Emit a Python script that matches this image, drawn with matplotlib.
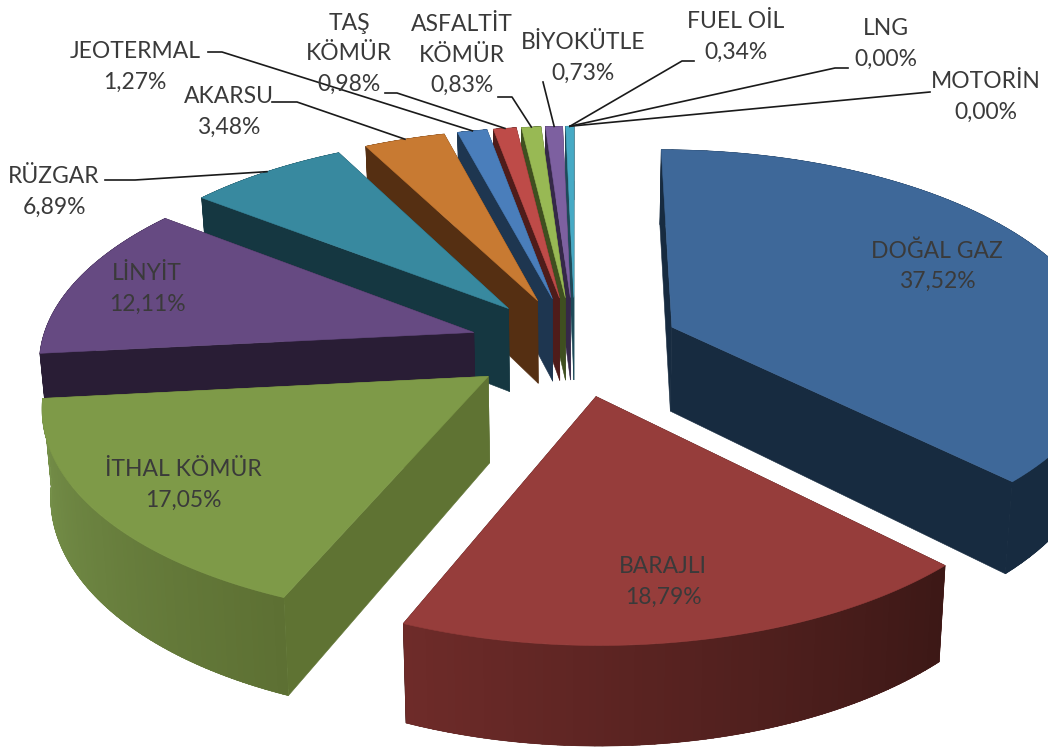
import numpy as np
import matplotlib
matplotlib.use("Agg")
import matplotlib.pyplot as plt
from matplotlib.colors import to_rgb

# data
names = ["DOĞAL GAZ", "BARAJLI", "İTHAL KÖMÜR", "LİNYİT", "RÜZGAR", "AKARSU", "JEOTERMAL",
         "TAŞ\nKÖMÜR", "ASFALTİT\nKÖMÜR", "BİYOKÜTLE", "FUEL OİL", "LNG", "MOTORİN"]
shares = [37.52, 18.79, 17.05, 12.11, 6.89, 3.48, 1.27, 0.98, 0.83, 0.73, 0.34, 0.00, 0.00]

# colours
tops = ["#3e6899", "#963d3b", "#7e9a48", "#664a82", "#38899f", "#c87a32",
        "#4a7ebb", "#be4b48", "#98b954", "#7d60a0", "#46aac5", "#46aac5", "#46aac5"]
cuts = ["#172b40", "#3c1816", "#5f7333", "#291d35", "#153741", "#552f12",
        "#1e3650", "#4f1c1a", "#3f4f20", "#352848", "#1d4a58", "#1d4a58", "#1d4a58"]
wall_right = ["#172b40", "#3c1816", "#5d7033", "#291d35", "#153741", "#552f12",
              "#1e3650", "#4f1c1a", "#3f4f20", "#352848", "#1d4a58", "#1d4a58", "#1d4a58"]
wall_left = ["#172b40", "#6e2b29", "#76914a", "#291d35", "#153741", "#552f12",
             "#1e3650", "#4f1c1a", "#3f4f20", "#352848", "#1d4a58", "#1d4a58", "#1d4a58"]

# pie shape
cx, cy = 575, 346
R, Rk = 433, 204
D = 8.0
depth = 85
taper = 0.016
explode = 0.245

label_xy = [(937, 266), (663, 582), (183, 485), (147, 289), (54, 192), (229, 112), (135, 67),
            (349, 54), (462, 55), (583, 58), (736, 37), (886, 44), (986, 97)]
# leader lines: text side end, elbow (None for labels inside the pie)
leader = [None, None, None, None, ((105, 180), (135, 180)), ((272, 102), (297, 102)),
          ((208, 52), (222, 52)), ((385, 93), (397, 93)), ((498, 97), (512, 97)),
          ((543, 82), (543, 82)), ((694, 61), (682, 61)), ((848, 68), (835, 68)),
          ((930, 92), (930, 92))]


def project(x, y, z=0.0):
    s = D / (D - y)
    return cx + R * x * s * (1 - taper * z), cy + Rk * y * s + depth * z * s


def wedge_xy(a0, a1, z=0.0, n=80):
    mid = np.radians((a0 + a1) / 2)
    ex, ey = explode * np.sin(mid), -explode * np.cos(mid)
    aa = np.radians(np.linspace(a0, a1, n))
    px, py = project(ex + np.sin(aa), ey - np.cos(aa), z)
    return project(ex, ey, z), px, py


def blend(c0, c1, t):
    c0, c1 = np.array(to_rgb(c0)), np.array(to_rgb(c1))
    return tuple(c0 + (c1 - c0) * t)


fig = plt.figure(figsize=(10.48, 7.47), dpi=100)
ax = fig.add_axes([0, 0, 1, 1])
ax.set_xlim(0, 1048)
ax.set_ylim(747, 0)
ax.axis("off")

ends = np.cumsum(shares) * 3.6
starts = np.r_[0, ends[:-1]]
ends[10] = 360  # rounding rest goes to the last sliver so the ring closes

# back to front
order = sorted([i for i in range(len(shares)) if shares[i] > 0],
               key=lambda i: -np.cos(np.radians((starts[i] + ends[i]) / 2)))

anchors = {}
for i in order:
    a0, a1 = starts[i], ends[i]
    (tx, ty), px, py = wedge_xy(a0, a1)
    (bx, by), qx, qy = wedge_xy(a0, a1, z=1.0)
    anchors[i] = (px[len(px) // 2], py[len(py) // 2])
    # cut faces
    for k in (0, -1):
        ax.fill([tx, px[k], qx[k], bx], [ty, py[k], qy[k], by], color=cuts[i], lw=0.4)
    # outer wall, a smooth shape with the shading strips clipped to it
    n = len(px)
    shape = ax.fill(np.r_[px, qx[::-1]], np.r_[py, qy[::-1]],
                    color=blend(wall_right[i], wall_left[i], 0.5), lw=0.4)[0]
    for j in range(n - 1):
        c = blend(wall_right[i], wall_left[i], j / (n - 2))
        strip = ax.fill([px[j], px[j + 1], qx[j + 1], qx[j]], [py[j], py[j + 1], qy[j + 1], qy[j]],
                        color=c, lw=1.0, antialiased=False)[0]
        strip.set_clip_path(shape)
    # top
    ax.fill(np.r_[tx, px], np.r_[ty, py], color=tops[i], lw=0.4)

# leader lines end on the slice they belong to, the two empty slices on the last sliver
for i, name in enumerate(names):
    if leader[i] is not None:
        end = anchors.get(i, anchors[10])
        p0, p1 = leader[i]
        ax.plot([p0[0], p1[0], end[0]], [p0[1], p1[1], end[1]], color="#1a1a1a", lw=1.2, zorder=3)

for i, name in enumerate(names):
    pct = f"{shares[i]:.2f}%".replace(".", ",")
    ax.text(label_xy[i][0], label_xy[i][1], name + "\n" + pct, ha="center", va="center",
            family="Lato", fontsize=16.5, color="#3a3a3a", linespacing=1.55, zorder=4)

fig.savefig("out.png", dpi=100)
